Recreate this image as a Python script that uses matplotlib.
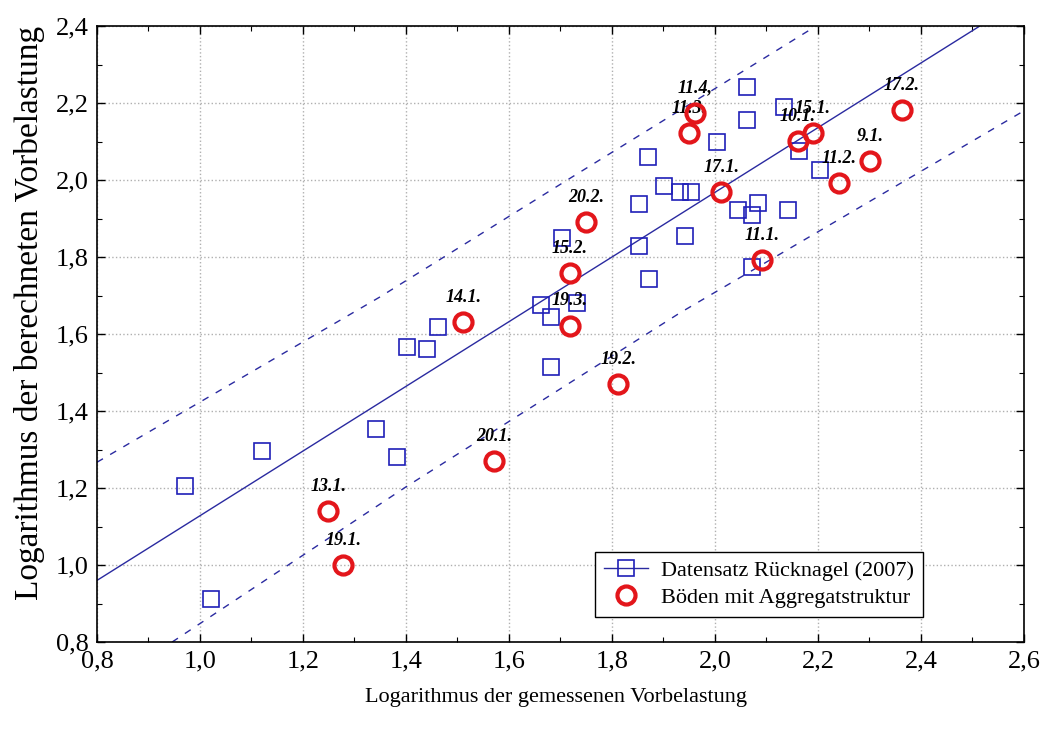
import numpy as np
import matplotlib
matplotlib.use("Agg")
import matplotlib.pyplot as plt
from matplotlib.lines import Line2D

# -------------------------------
# Data
# -------------------------------
# Datensatz Rücknagel (2007) - blue squares
rueck_x = [0.971, 1.021, 1.120, 1.342, 1.383, 1.402, 1.441, 1.462, 1.662, 1.682,
           1.682, 1.732, 1.703, 1.852, 1.852, 1.872, 1.870, 1.901, 1.932, 1.953,
           1.942, 2.004, 2.062, 2.062, 2.134, 2.163, 2.204, 2.045, 2.072, 2.083,
           2.142, 2.072]
rueck_y = [1.205, 0.912, 1.296, 1.353, 1.280, 1.566, 1.561, 1.618, 1.675, 1.644,
           1.514, 1.681, 1.849, 1.938, 1.829, 1.743, 2.060, 1.984, 1.969, 1.969,
           1.855, 2.099, 2.242, 2.156, 2.190, 2.075, 2.026, 1.922, 1.909, 1.940,
           1.922, 1.774]

# Böden mit Aggregatstruktur - red circles with sample labels
agg_labels = ["13.1.", "19.1.", "20.1.", "14.1.", "20.2.", "15.2.", "19.3.", "19.2.",
              "11.4,", "11.3.", "17.1.", "11.1.", "10.1.", "15.1.", "11.2.", "9.1.", "17.2."]
agg_x = [1.249, 1.278, 1.571, 1.511, 1.750, 1.718, 1.718, 1.812,
         1.961, 1.950, 2.012, 2.091, 2.161, 2.190, 2.241, 2.301, 2.363]
agg_y = [1.140, 1.000, 1.270, 1.631, 1.890, 1.758, 1.621, 1.470,
         2.174, 2.122, 1.969, 1.792, 2.101, 2.122, 1.992, 2.049, 2.182]

# regression line and prediction band
fit_x = [0.8, 2.514]
fit_y = [0.96, 2.4]
upper_x = [0.8, 1.349, 1.713, 2.184]
upper_y = [1.267, 1.696, 2.0, 2.39]
lower_x = [0.946, 1.4, 1.932, 2.6]
lower_y = [0.8, 1.203, 1.655, 2.18]

# -------------------------------
# Plot
# -------------------------------
plt.rcParams['font.family'] = ['Liberation Serif', 'DejaVu Serif']

line_col = '#2a2aa0'
sq_col = '#1f1fb8'
circ_col = '#e3161b'

fig = plt.figure(figsize=(10.47, 7.35), dpi=100)
ax = fig.add_axes([0.0926, 0.1265, 0.8854, 0.838])

ax.plot(fit_x, fit_y, color=line_col, lw=1.0, zorder=2)
ax.plot(upper_x, upper_y, color=line_col, lw=1.0, ls=(0, (5, 6)), zorder=2)
ax.plot(lower_x, lower_y, color=line_col, lw=1.0, ls=(0, (5, 6)), zorder=2)

ax.plot(rueck_x, rueck_y, ls='none', marker='s', ms=12, mfc='none',
        mec=sq_col, mew=1.2, zorder=3)

for lab, x, y in zip(agg_labels, agg_x, agg_y):
    ax.annotate(lab, (x, y), xytext=(0, 18), textcoords='offset points',
                ha='center', va='center', fontsize=13, fontweight='bold',
                fontstyle='italic', color='black', zorder=4)

ax.plot(agg_x, agg_y, ls='none', marker='o', ms=13, mfc='none',
        mec=circ_col, mew=3.0, zorder=5)

ax.set_xlim(0.8, 2.6)
ax.set_ylim(0.8, 2.4)
ax.set_xticks(np.arange(0.8, 2.61, 0.2))
ax.set_yticks(np.arange(0.8, 2.41, 0.2))
ax.set_xticks(np.arange(0.8, 2.61, 0.1), minor=True)
ax.set_yticks(np.arange(0.8, 2.41, 0.1), minor=True)
ax.set_xticklabels([f"{v:.1f}".replace('.', ',') for v in np.arange(0.8, 2.61, 0.2)])
ax.set_yticklabels([f"{v:.1f}".replace('.', ',') for v in np.arange(0.8, 2.41, 0.2)])
ax.tick_params(which='both', direction='in', top=True, right=True, labelsize=19)
ax.tick_params(which='major', length=6, width=1.0, pad=6)
ax.tick_params(which='minor', length=3.5, width=0.8)
ax.grid(True, which='major', color='#b0b0b0', ls=':', lw=1.0)
for s in ax.spines.values():
    s.set_linewidth(1.2)

ax.set_xlabel("Logarithmus der gemessenen Vorbelastung", fontsize=16)
ax.set_ylabel("Logarithmus der berechneten Vorbelastung", fontsize=24)
ax.xaxis.set_label_coords(0.495, -0.075)
ax.yaxis.set_label_coords(-0.056, 0.535)

handles = [
    Line2D([], [], color=line_col, lw=1.0, marker='s', ms=12, mfc='none',
           mec=sq_col, mew=1.2),
    Line2D([], [], ls='none', marker='o', ms=13, mfc='none', mec=circ_col, mew=3.0),
]
leg = ax.legend(handles, ["Datensatz Rücknagel (2007)", "Böden mit Aggregatstruktur"],
                loc='upper left', bbox_to_anchor=(0.525, 0.165), fontsize=16,
                fancybox=False, framealpha=1, edgecolor='black', handlelength=2.0,
                borderpad=0.4, labelspacing=0.3, handletextpad=0.6)
leg.get_frame().set_linewidth(1.0)

fig.savefig("out.png", dpi=100)
